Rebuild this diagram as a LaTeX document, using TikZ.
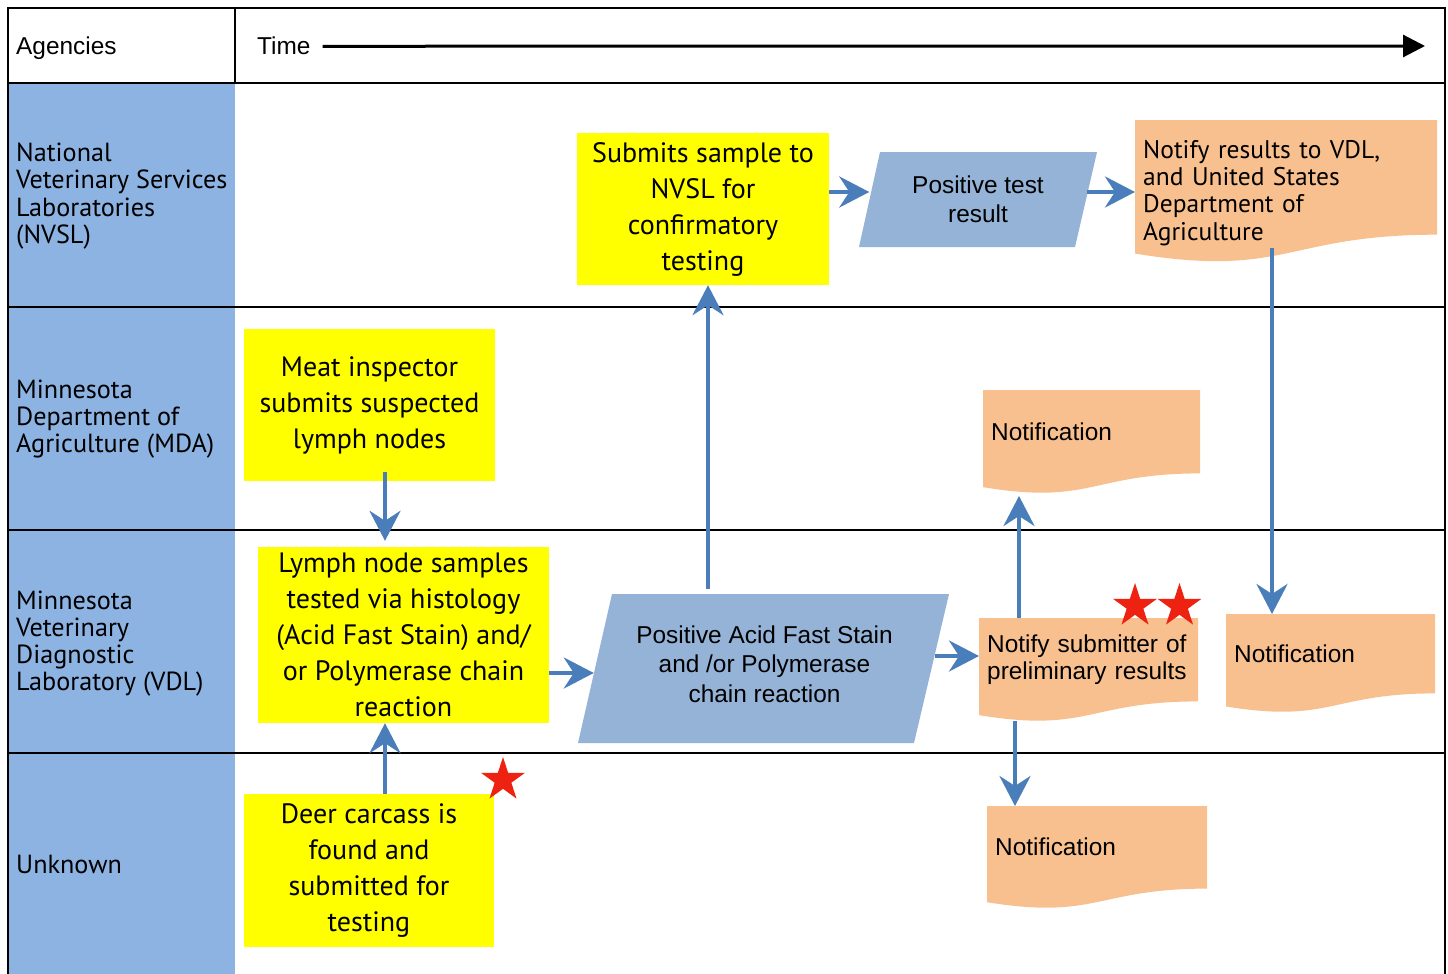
\documentclass[tikz,border=0pt]{standalone}
\usepackage{fontspec}
\newfontfamily\hum{PT Sans}
\newfontfamily\helv{Liberation Sans}
\usetikzlibrary{arrows.meta,shapes.geometric,calc}
\definecolor{lanecol}{HTML}{8DB3E2}
\definecolor{paracol}{HTML}{95B3D7}
\definecolor{yel}{HTML}{FFFF00}
\definecolor{docor}{HTML}{F8C08F}
\definecolor{arrblue}{HTML}{4A7EBB}
\definecolor{starred}{HTML}{EE2211}
\newcommand\docshape[4]{\fill[docor] (#1,#2) -- (#3,#2) -- (#3,{#2+0.802*#4}) .. controls ({(#1+#3)/2},{#2+0.802*#4}) and ({(#1+#3)/2},{#2+1.107*#4}) .. (#1,{#2+0.934*#4}) -- cycle;}
\begin{document}
\begin{tikzpicture}[x=1pt,y=-1pt,
  frame/.style={black, line width=2pt},
  ybox/.style={fill=yel, inner sep=0pt, align=center, font=\hum\fontsize{28}{36}\selectfont},
  lanelbl/.style={anchor=west, inner sep=0pt, align=left, font=\hum\fontsize{26.2}{27.2}\selectfont},
  doctext/.style={anchor=north west, inner xsep=8pt, inner ysep=0pt, align=left, font=\helv\fontsize{24.4}{27}\selectfont},
  paratext/.style={inner sep=0pt, align=center, font=\helv\fontsize{24.4}{29.5}\selectfont},
  hdr/.style={anchor=base west, inner sep=0pt, font=\helv\fontsize{24.4}{27}\selectfont},
  flow/.style={draw=arrblue, line width=4pt, -{Stealth[length=30pt,width=31pt,inset=10pt]}},
  redstar/.style={star, star points=5, star point ratio=2.618, fill=starred, inner sep=0pt, minimum size=46pt}]
\useasboundingbox (0,0) rectangle (1448,974);
\fill[white] (0,0) rectangle (1448,974);
% agency column
\fill[lanecol] (9,83) rectangle (235,974);
% frame and lanes
\draw[frame] (8,974) -- (8,8) -- (1445,8) -- (1445,974);
\draw[frame] (8,83) -- (1445,83);
\draw[frame] (235,8) -- (235,83);
\foreach \yy in {307,530,753} \draw[frame] (8,\yy) -- (1445,\yy);
% header
\node[hdr] (agen) at (16,55) {Agencies};
\node[hdr] (time) at (257,55) {Time};
\coordinate (tend) at (1425,46);
\draw[line width=3pt, -{Triangle[length=22pt,width=22pt]}, shorten <=12pt] (time.east) -- (tend);
% lane labels
\node[lanelbl] (lnvsl) at (16,196) {National\\Veterinary Services\\Laboratories\\(NVSL)};
\node[lanelbl] (lmda) at (16,419) {Minnesota\\Department of\\Agriculture (MDA)};
\node[lanelbl] (lvdl) at (16,643.5) {Minnesota\\Veterinary\\Diagnostic\\Laboratory (VDL)};
\node[lanelbl] (lunk) at (16,864) {Unknown};
% yellow boxes
\node[ybox, minimum width=252pt, minimum height=152pt] (submit) at (703,209) {Submits sample to\\NVSL for\\confirmatory\\testing};
\node[ybox, minimum width=251pt, minimum height=152pt] (meat) at (369.5,405) {Meat inspector\\submits suspected\\lymph nodes};
\node[ybox, minimum width=291pt, minimum height=176pt] (lymph) at (403.5,635) {Lymph node samples\\tested via histology\\(Acid Fast Stain) and/\\or Polymerase chain\\reaction};
\node[ybox, minimum width=250pt, minimum height=153pt] (deer) at (369,870.5) {Deer carcass is\\found and\\submitted for\\testing};
% parallelograms
\fill[paracol] (880,152) -- (1097,152) -- (1075,247) -- (859,247) -- cycle;
\node[paratext, minimum width=217pt, minimum height=95pt] (pos) at (978,199.5) {Positive test\\result};
\fill[paracol] (612,594) -- (949,594) -- (914,743) -- (578,743) -- cycle;
\node[paratext, minimum width=341pt, minimum height=149pt] (acid) at (764.5,664) {Positive Acid Fast Stain\\and /or Polymerase\\chain reaction};
% documents
\docshape{1135}{120}{1437}{143}
\node[doctext, font=\hum\fontsize{25.5}{27.3}\selectfont, minimum width=302pt, text width=286pt, minimum height=145pt] (notres) at (1135,120) {Notify results to VDL,\\and United States\\Department of\\Agriculture};
\docshape{983}{390}{1200}{104}
\node[doctext, minimum width=217pt, text width=201pt, minimum height=84pt] (notmda) at (983,390) {Notification};
\docshape{979}{618}{1198}{104}
\node[doctext, minimum width=219pt, text width=203pt, minimum height=83pt] (notsub) at (979,618) {Notify submitter of\\preliminary results};
\docshape{1226}{614}{1435}{99}
\node[doctext, minimum width=209pt, text width=193pt, minimum height=80pt] (notvdl) at (1226,614) {Notification};
\docshape{987}{806}{1207}{103}
\node[doctext, minimum width=220pt, text width=204pt, minimum height=82pt] (notunk) at (987,806) {Notification};
% connector guides
\coordinate (x385) at (385,0);
\coordinate (x708) at (708,0);
\coordinate (y192) at (0,192);
\coordinate (y673) at (0,673);
\coordinate (y656) at (0,656);
\coordinate (mdaB) at (1019,496);
\coordinate (subB) at (1015,721);
\coordinate (resB) at (1272,248);
% connectors
\draw[flow, shorten <=-9pt, shorten >=6pt] (meat.south -| x385) -- (lymph.north -| x385);
\draw[flow] (deer.north -| x385) -- (lymph.south -| x385);
\draw[flow] (lymph.east |- y673) -- (acid.west |- y673);
\draw[flow] (acid.north -| x708) -- (submit.south -| x708);
\draw[flow] (acid.east |- y656) -- (notsub.west |- y656);
\draw[flow] (notsub.north -| mdaB) -- (mdaB);
\draw[flow] (subB) -- (notunk.north -| subB);
\draw[flow] (submit.east |- y192) -- (pos.west |- y192);
\draw[flow] (pos.east |- y192) -- (notres.west |- y192);
\draw[flow] (resB) -- (notvdl.north -| resB);
% stars
\node[redstar] (st1) at (503,780) {};
\node[redstar] (st2) at (1135,606) {};
\node[redstar] (st3) at (1179.5,606) {};
\end{tikzpicture}
\end{document}
